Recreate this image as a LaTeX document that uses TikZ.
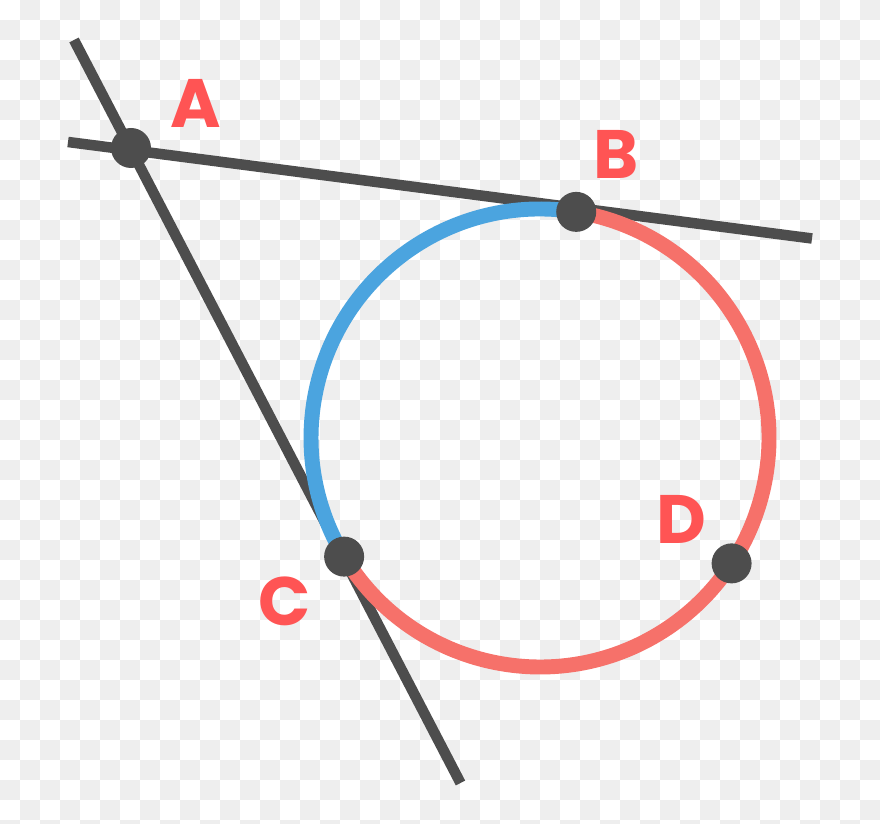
\documentclass[tikz,border=0pt]{standalone}
\usepackage{fontspec}
\newfontfamily\ptfont{Poppins}
\definecolor{ink}{HTML}{4D4D4D}
\definecolor{arcblue}{HTML}{4BA4DF}
\definecolor{arcred}{HTML}{F6716A}
\definecolor{txtred}{HTML}{FF5454}
\definecolor{check}{HTML}{EEEEEE}

\begin{document}
\begin{tikzpicture}[x=0.02cm, y=0.02cm,
	tangent/.style={ink, line width=6pt},
	rim/.style={line width=8.5pt},
	dot/.style={circle, fill=ink, inner sep=0pt, minimum size=0.8cm},
	lbl/.style={txtred, font=\ptfont\bfseries\fontsize{39}{39}\selectfont, inner sep=0pt}]
	\useasboundingbox (0,0) rectangle (880,824);
	\clip (0,0) rectangle (880,824);
	\fill [white] (0,0) rectangle (880,824);
	\foreach \i in {1,3,...,43} \foreach \j in {0,2,...,40} \fill [check] (20*\i,824-20*\j) rectangle ++(20,-20);
	\foreach \i in {0,2,...,42} \foreach \j in {1,3,...,41} \fill [check] (20*\i,824-20*\j) rectangle ++(20,-20);
	\coordinate (O) at (540,386);
	\coordinate (ab1) at (68,682);
	\coordinate (ab2) at (812,585.5);
	\coordinate (ac1) at (74,784);
	\coordinate (ac2) at (460.5,41);
	\coordinate (b) at ([shift={(80.9:229)}]O);
	\coordinate (c) at ([shift={(211.2:229)}]O);
	\coordinate (d) at ([shift={(-33.2:229)}]O);
	\draw [tangent] (ab1) -- (ab2);
	\draw [tangent] (ac1) -- (ac2);
	\draw [rim, arcblue] (b) arc [start angle=80.9, end angle=211.2, radius=229];
	\draw [rim, arcred] (c) arc [start angle=211.2, end angle=440.9, radius=229];
	\node [dot] (A) at (131,676) {};
	\node [dot] (B) at (b) {};
	\node [dot] (C) at (c) {};
	\node [dot] (D) at (d) {};
	\node [lbl] (labA) at (196,721) {A};
	\node [lbl] (labB) at (616,670) {B};
	\node [lbl] (labC) at (284.5,223) {C};
	\node [lbl] (labD) at (681,305) {D};
\end{tikzpicture}
\end{document}
